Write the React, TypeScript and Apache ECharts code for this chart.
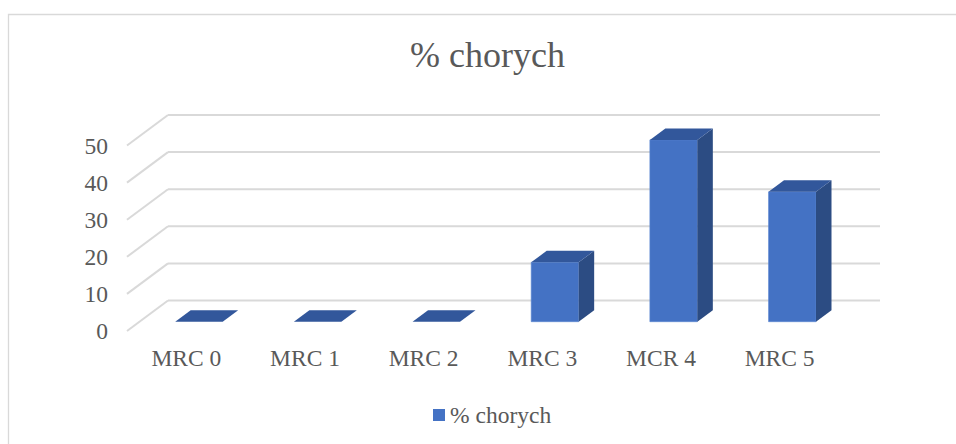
import React, { useEffect, useRef } from "react";
import * as echarts from "echarts";

const categories = ["MRC 0", "MRC 1", "MRC 2", "MRC 3", "MCR 4", "MRC 5"];
const seriesName = "% chorych";
const values = [0, 0, 0, 16, 49, 35];
const yTicks = [0, 10, 20, 30, 40, 50];
const titleText = "% chorych";

// 3D styling offsets (depth of the chart box and of the bars)
const WALL_DX = 41;
const WALL_DY = -30.5;
const BAR_FRONT_DX = 12.6;
const BAR_FRONT_DY = -9.3;
const BAR_DX = 15.5;
const BAR_DY = -11.5;
const BAR_RATIO = 0.4;

const FONT = "'Liberation Serif', 'Times New Roman', serif";
const TEXT_COLOR = "#595959";
const GRID_COLOR = "#D9D9D9";
const FRONT_COLOR = "#4472C4";
const SIDE_COLOR = "#2C4C83";
const TOP_COLOR = "#32579B";

export default function App() {
  const ref = useRef<HTMLDivElement>(null);
  useEffect(() => {
    if (!ref.current) return;
    const chart = echarts.init(ref.current, undefined, { renderer: "svg" });
    const option: any = {
      animation: false,
      backgroundColor: "#fff",
      title: {
        text: titleText,
        left: 410,
        top: 37,
        padding: 0,
        textStyle: { fontFamily: FONT, fontSize: 36, fontWeight: "normal", color: TEXT_COLOR },
      },
      legend: {
        data: [seriesName],
        left: 433,
        top: 403,
        padding: 0,
        icon: "rect",
        itemWidth: 12,
        itemHeight: 12,
        itemGap: 5,
        textStyle: { fontFamily: FONT, fontSize: 23.5, color: TEXT_COLOR },
      },
      graphic: [
        {
          type: "rect",
          shape: { x: 8.5, y: 14.5, width: 960, height: 440 },
          style: { fill: "none", stroke: GRID_COLOR, lineWidth: 1.3 },
          silent: true,
          z: -10,
        },
      ],
      grid: { left: 127, top: 145.5, width: 712, height: 185.5, containLabel: false },
      xAxis: {
        type: "category",
        data: categories,
        axisLine: { show: false },
        axisTick: { show: false },
        axisLabel: { fontFamily: FONT, fontSize: 23.5, color: TEXT_COLOR, margin: 15 },
        splitLine: { show: false },
      },
      yAxis: {
        type: "value",
        min: 0,
        max: 50,
        interval: 10,
        axisLine: { show: false },
        axisTick: { show: false },
        splitLine: { show: false },
        axisLabel: { fontFamily: FONT, fontSize: 23.5, color: TEXT_COLOR, margin: 19 },
      },
      series: [
        {
          type: "custom",
          silent: true,
          z: 1,
          data: yTicks.map((t) => [0, t]),
          encode: { x: 0, y: 1 },
          renderItem: (params: any, api: any) => {
            const y = api.coord([0, api.value(1)])[1];
            const x0 = params.coordSys.x;
            const w = params.coordSys.width;
            const style = { stroke: GRID_COLOR, lineWidth: 2, fill: "none" };
            return {
              type: "group",
              children: [
                { type: "line", shape: { x1: x0, y1: y, x2: x0 + WALL_DX, y2: y + WALL_DY }, style },
                {
                  type: "line",
                  shape: { x1: x0 + WALL_DX, y1: y + WALL_DY, x2: x0 + WALL_DX + w, y2: y + WALL_DY },
                  style,
                },
              ],
            };
          },
        },
        {
          name: seriesName,
          type: "custom",
          z: 5,
          itemStyle: { color: FRONT_COLOR },
          data: values.map((v, i) => [i, v]),
          encode: { x: 0, y: 1 },
          renderItem: (params: any, api: any) => {
            const base = api.coord([api.value(0), 0]);
            const top = api.coord([api.value(0), api.value(1)]);
            const bw = api.size([1, 0])[0] * BAR_RATIO;
            const xl = base[0] - bw / 2 + BAR_FRONT_DX;
            const xr = xl + bw;
            const yb = base[1] + BAR_FRONT_DY;
            const yt = top[1] + BAR_FRONT_DY;
            const children: any[] = [];
            if (yb - yt > 0.5) {
              children.push({
                type: "rect",
                shape: { x: xl, y: yt, width: bw, height: yb - yt },
                style: { fill: FRONT_COLOR, stroke: "#5A86D1", lineWidth: 0.6 },
              });
              children.push({
                type: "polygon",
                shape: {
                  points: [
                    [xr, yt],
                    [xr + BAR_DX, yt + BAR_DY],
                    [xr + BAR_DX, yb + BAR_DY],
                    [xr, yb],
                  ],
                },
                style: { fill: SIDE_COLOR },
              });
            }
            children.push({
              type: "polygon",
              shape: {
                points: [
                  [xl, yt],
                  [xl + BAR_DX, yt + BAR_DY],
                  [xr + BAR_DX, yt + BAR_DY],
                  [xr, yt],
                ],
              },
              style: { fill: TOP_COLOR },
            });
            return { type: "group", children };
          },
        },
      ],
    };
    chart.setOption(option);
    return () => chart.dispose();
  }, []);
  return (
    <div
      ref={ref}
      style={{ position: "fixed", left: 0, top: 0, width: 956, height: 444 }}
    />
  );
}
